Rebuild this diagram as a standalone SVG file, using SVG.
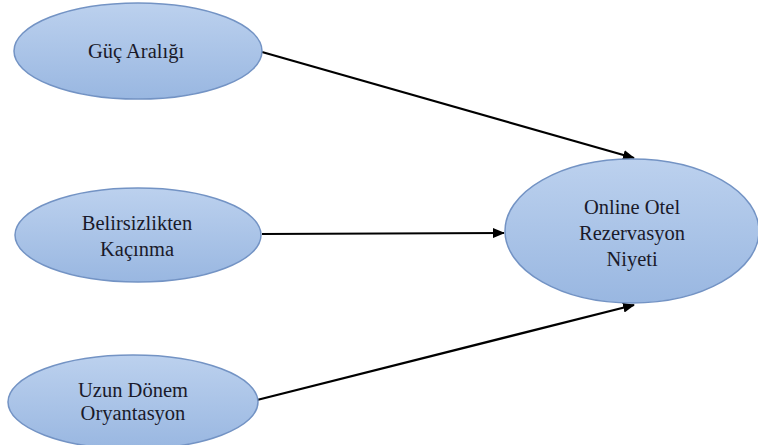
<svg xmlns="http://www.w3.org/2000/svg" width="758" height="445" viewBox="0 0 758 445">
<defs>
<linearGradient id="g" x1="0" y1="0" x2="0" y2="1">
<stop offset="0" stop-color="#bcd1ee"/>
<stop offset="1" stop-color="#99b7e1"/>
</linearGradient>
<marker id="ah" markerWidth="12" markerHeight="10" refX="11" refY="5" orient="auto" markerUnits="userSpaceOnUse">
<path d="M0,0 L12,5 L0,10 Z" fill="#000"/>
</marker>
<style>
.n{fill:url(#g);stroke:#7393c4;stroke-width:1.5}
.t{font-family:'Times New Roman',Tinos,'Liberation Serif','DejaVu Serif',serif;font-size:20.5px;fill:#1a1a2a;text-anchor:middle}
.c{stroke:#000;stroke-width:2.2;fill:none;marker-end:url(#ah)}
</style>
</defs>
<rect width="758" height="445" fill="#fff"/>
<g id="connectors">
<line class="c" x1="262" y1="52" x2="634" y2="158"/>
<line class="c" x1="262" y1="234" x2="504" y2="233"/>
<line class="c" x1="257" y1="400" x2="634" y2="305"/>
</g>
<g id="guc">
<ellipse class="n" cx="138" cy="51" rx="124" ry="48"/>
<text class="t" x="136" y="58">Güç Aralığı</text>
</g>
<g id="belirsizlik">
<ellipse class="n" cx="138" cy="235" rx="123" ry="47"/>
<text class="t" x="137" y="230">Belirsizlikten</text>
<text class="t" x="137" y="256">Kaçınma</text>
</g>
<g id="uzun">
<ellipse class="n" cx="133" cy="402" rx="125" ry="47"/>
<text class="t" x="133" y="397">Uzun Dönem</text>
<text class="t" x="133" y="420">Oryantasyon</text>
</g>
<g id="niyet">
<ellipse class="n" cx="632" cy="231" rx="127" ry="72"/>
<text class="t" x="632" y="214">Online Otel</text>
<text class="t" x="632" y="240">Rezervasyon</text>
<text class="t" x="632" y="266">Niyeti</text>
</g>
</svg>
